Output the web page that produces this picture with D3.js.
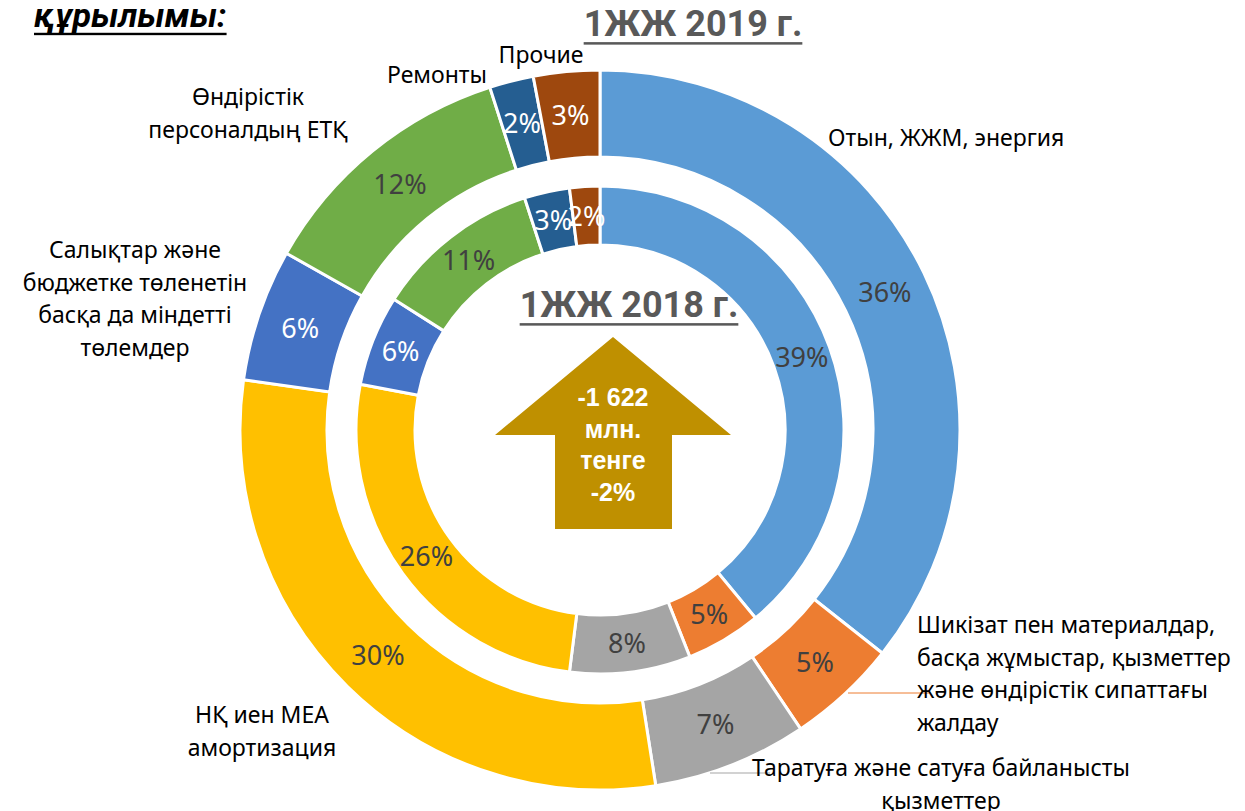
<!DOCTYPE html>
<html>
<head>
<meta charset="utf-8">
<script src="https://cdn.jsdelivr.net/npm/d3@7"></script>
<style>
  body { margin: 0; background: #fff; }
  svg text { font-family: "Noto Sans", Roboto, sans-serif; }
</style>
</head>
<body>
<div id="chart"></div>
<script>
// categories in the order they go round the rings (clockwise from 12 o'clock)
const categories = [
  "Отын, ЖЖМ, энергия",
  "Шикізат пен материалдар, басқа жұмыстар, қызметтер және өндірістік сипаттағы жалдау",
  "Таратуға және сатуға байланысты қызметтер",
  "НҚ иен МЕА амортизация",
  "Салықтар және бюджетке төленетін басқа да міндетті төлемдер",
  "Өндірістік персоналдың ЕТҚ",
  "Ремонты",
  "Прочие"
];
const values2019 = [36, 5, 7, 30, 6, 12, 2, 3];   // outer ring
const values2018 = [39, 5, 8, 26, 6, 11, 3, 2];   // inner ring
const colors = ["#5B9BD5", "#ED7D31", "#A5A5A5", "#FFC000", "#4472C4", "#70AD47", "#255E91", "#9E480E"];
const darkSlices = [4, 6, 7]; // white text on these

const titleOuter = "1ЖЖ 2019 г.";
const titleInner = "1ЖЖ 2018 г.";
const heading = "құрылымы:";
const arrowText = ["-1 622", "млн.", "тенге", "-2%"];

// label lines as laid out on the slide
const labelLines = [
  ["Отын, ЖЖМ, энергия"],
  ["Шикізат пен материалдар,", "басқа жұмыстар, қызметтер", "және өндірістік сипаттағы", "жалдау"],
  ["Таратуға және сатуға байланысты", "қызметтер"],
  ["НҚ иен МЕА", "амортизация"],
  ["Салықтар және", "бюджетке төленетін", "басқа да міндетті", "төлемдер"],
  ["Өндірістік", "персоналдың ЕТҚ"],
  ["Ремонты"],
  ["Прочие"]
];

const width = 1245, height = 811;
const cx = 600, cy = 430;

const svg = d3.select("#chart").append("svg")
  .attr("width", width)
  .attr("height", height);

const pie = d3.pie().sort(null).value(d => d);

const outerArc = d3.arc().innerRadius(273).outerRadius(360);
const innerArc = d3.arc().innerRadius(185).outerRadius(244);

const g = svg.append("g").attr("transform", `translate(${cx},${cy})`);

function ring(values, arc, cls) {
  const data = pie(values);
  g.selectAll("path." + cls)
    .data(data)
    .enter()
    .append("path")
      .attr("class", cls)
      .attr("d", arc)
      .attr("fill", (d, i) => colors[i])
      .attr("stroke", "#fff")
      .attr("stroke-width", 3);

  g.selectAll("text." + cls)
    .data(data)
    .enter()
    .append("text")
      .attr("class", cls)
      .attr("transform", d => `translate(${arc.centroid(d)})`)
      .attr("text-anchor", "middle")
      .attr("dy", "0.36em")
      .style("font-size", "27px")
      .style("fill", (d, i) => darkSlices.includes(i) ? "#fff" : "#404040")
      .text(d => d.data + "%");
}

ring(values2019, outerArc, "outer");
ring(values2018, innerArc, "inner");

// leader lines for the two labels that were dragged away
svg.append("line")
  .attr("x1", 848).attr("y1", 693).attr("x2", 930).attr("y2", 693)
  .attr("stroke", "#ED7D31").attr("stroke-width", 1);
svg.append("line")
  .attr("x1", 710).attr("y1", 773).attr("x2", 770).attr("y2", 773)
  .attr("stroke", "#A5A5A5").attr("stroke-width", 1);

// category labels: x, first line y, anchor
const labelPos = [
  {x: 828, y: 146, anchor: "start"},
  {x: 917, y: 633, anchor: "start"},
  {x: 941, y: 776, anchor: "middle"},
  {x: 262, y: 723, anchor: "middle"},
  {x: 135, y: 258, anchor: "middle"},
  {x: 248, y: 105, anchor: "middle"},
  {x: 437, y: 83, anchor: "middle"},
  {x: 541, y: 63, anchor: "middle"}
];

labelLines.forEach((lines, i) => {
  const p = labelPos[i];
  const t = svg.append("text")
    .attr("x", p.x)
    .attr("y", p.y)
    .attr("text-anchor", p.anchor)
    .style("font-size", "23px")
    .style("fill", "#000");
  lines.forEach((line, j) => {
    t.append("tspan")
      .attr("x", p.x)
      .attr("dy", j === 0 ? 0 : 32.5)
      .text(line);
  });
});

// underlined titles
function underlined(txt, x, y, size, color, italic, anchor, font) {
  const t = svg.append("text")
    .attr("x", x).attr("y", y)
    .attr("text-anchor", anchor)
    .style("font-family", font)
    .style("font-size", size + "px")
    .style("font-weight", "bold")
    .style("font-style", italic ? "italic" : "normal")
    .style("fill", color)
    .text(txt);
  const b = t.node().getBBox();
  svg.append("rect")
    .attr("x", b.x).attr("y", y + size * 0.17)
    .attr("width", b.width).attr("height", Math.max(2, size * 0.07))
    .attr("fill", color);
}

underlined(titleOuter, 693, 36, 36, "#595959", false, "middle", "Roboto, sans-serif");
underlined(titleInner, 629, 317, 36, "#595959", false, "middle", "Roboto, sans-serif");
underlined(heading, 34, 27, 34, "#000", true, "start", "Roboto, sans-serif");

// the arrow
const ax = 613;
const arrowPts = [
  [ax, 337], [ax + 118, 435], [ax + 59, 435], [ax + 59, 529],
  [ax - 58, 529], [ax - 58, 435], [ax - 118, 435]
];
svg.append("polygon")
  .attr("points", arrowPts.map(p => p.join(",")).join(" "))
  .attr("fill", "#BF9000");

svg.append("text")
  .attr("text-anchor", "middle")
  .style("font-family", "'Liberation Sans', Arial, sans-serif")
  .style("font-size", "25px")
  .style("font-weight", "bold")
  .style("fill", "#fff")
  .selectAll("tspan")
  .data(arrowText)
  .enter()
  .append("tspan")
    .attr("x", ax)
    .attr("y", (d, i) => 406 + i * 31.5)
    .text(d => d);
</script>
</body>
</html>
